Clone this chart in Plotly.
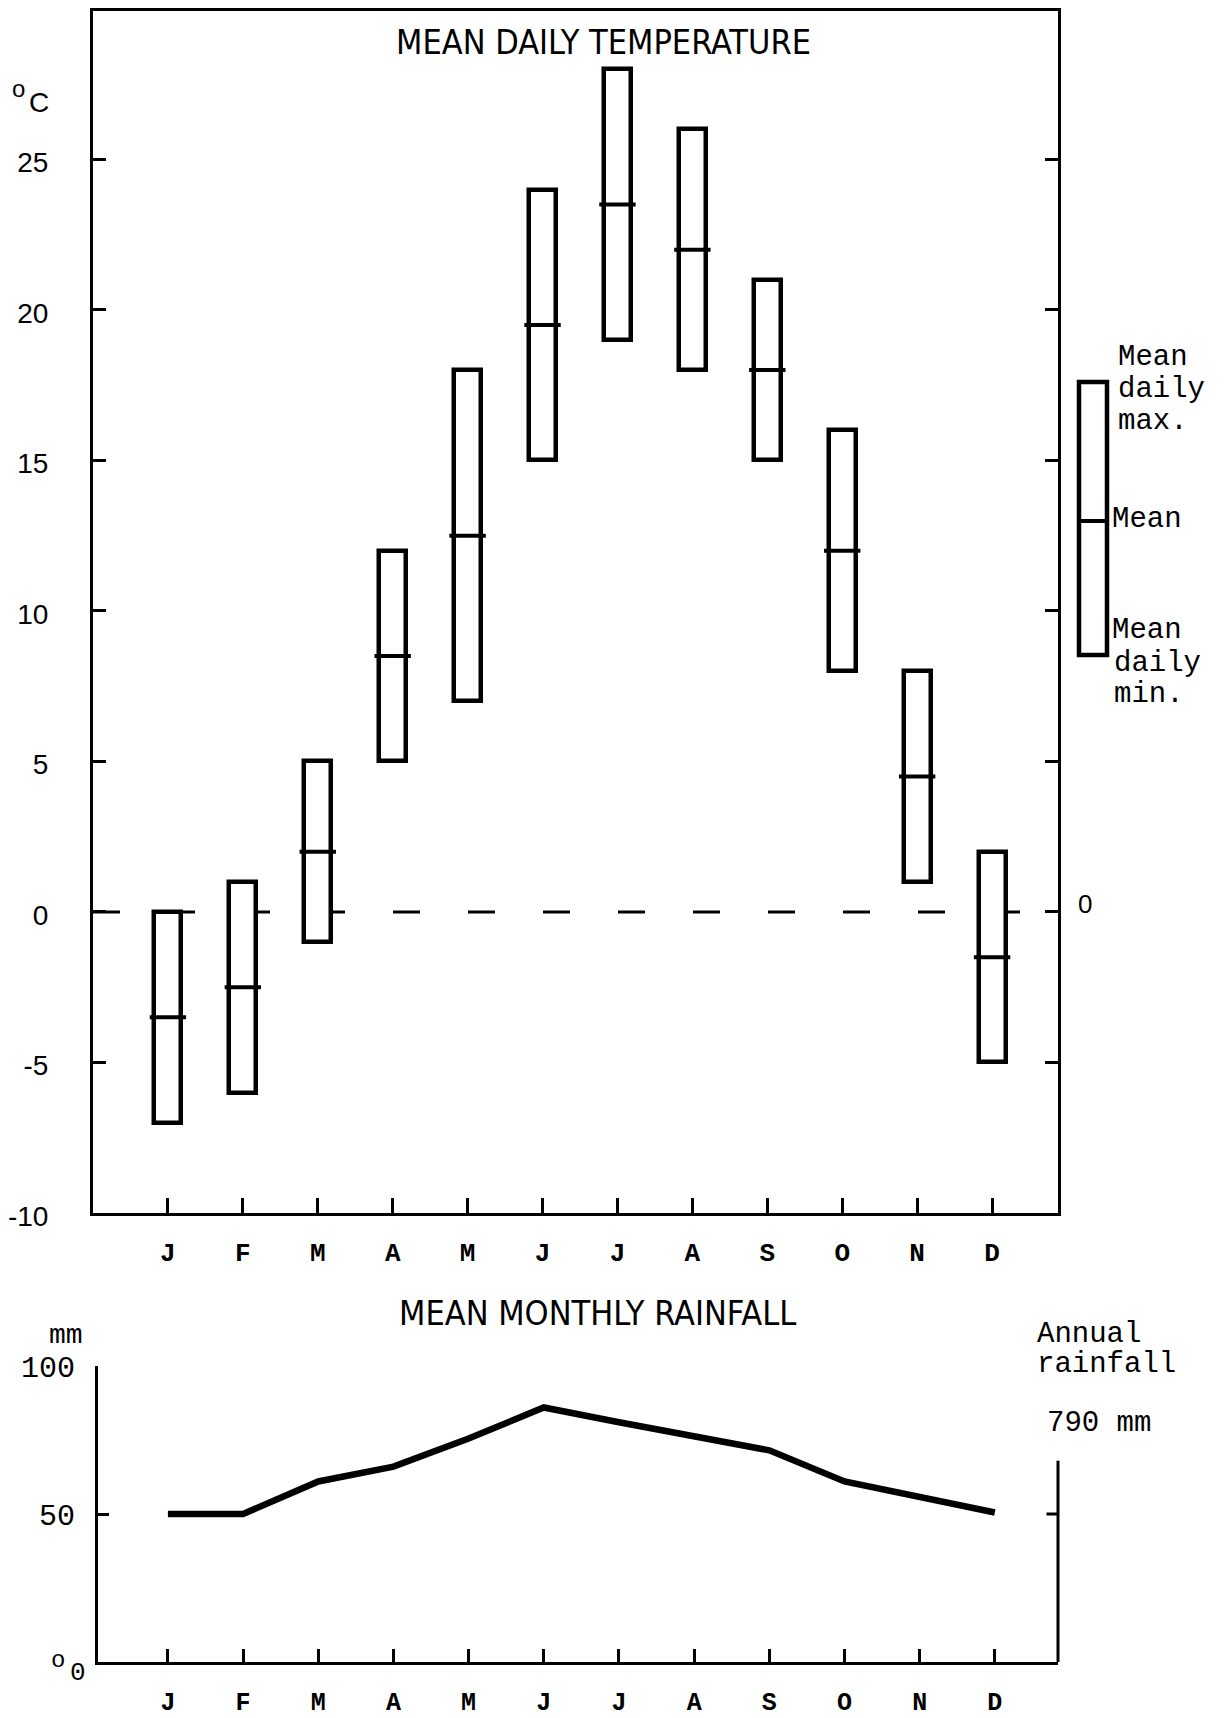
import plotly.graph_objects as go

# ---------------- data ----------------
months = ["J", "F", "M", "A", "M", "J", "J", "A", "S", "O", "N", "D"]
month_pos = list(range(1, 13))
t_max = [0, 1, 5, 12, 18, 24, 28, 26, 21, 16, 8, 2]
t_mean = [-3.5, -2.5, 2, 8.5, 12.5, 19.5, 23.5, 22, 18, 12, 4.5, -1.5]
t_min = [-7, -6, -1, 5, 7, 15, 19, 18, 15, 8, 1, -5]
temp_ticks = [-10, -5, 0, 5, 10, 15, 20, 25]
temp_tick_text = ["-10", "-5", "0", "5", "10", "15", "20", "25"]
rain = [50, 50, 61, 66, 75.5, 86, 81, 76.5, 71.5, 61, 56, 50.5]
rain_ticks = [50, 100]
rain_tick_text = ["50", "100"]
annual_rain = 790

W, H = 1224, 1718
OFF = 8  # page body margin
def px(x):
    return (x - OFF) / W
def py(y):
    return 1 - (y - OFF) / H

SANS = "Liberation Sans, Arial, sans-serif"
COND = "DejaVu Sans Condensed, Liberation Sans Narrow, Liberation Sans, sans-serif"
MONO = "Liberation Mono, Courier New, monospace"
BLACK = "black"

fig = go.Figure()

# temperature boxes
fig.add_trace(go.Bar(
    x=month_pos, base=t_min, y=[a - b for a, b in zip(t_max, t_min)],
    width=0.36, marker=dict(color="white", line=dict(color=BLACK, width=4.5)),
    xaxis="x", yaxis="y", hoverinfo="skip",
))
fig.add_trace(go.Scatter(
    x=month_pos, y=t_mean, mode="markers",
    marker=dict(symbol="line-ew", size=26, line=dict(color=BLACK, width=4)),
    xaxis="x", yaxis="y", hoverinfo="skip",
))
# rainfall line
fig.add_trace(go.Scatter(
    x=month_pos, y=rain, mode="lines",
    line=dict(color=BLACK, width=6.5),
    xaxis="x2", yaxis="y2", hoverinfo="skip",
))

fig.update_layout(
    template="none",
    width=W, height=H, margin=dict(l=0, r=0, t=0, b=0, pad=0, autoexpand=False),
    paper_bgcolor="white", plot_bgcolor="white", showlegend=False,
    bargap=0,
    xaxis=dict(domain=[px(93), px(1058)], range=[0, 12.88], tickvals=month_pos, ticktext=months,
               showline=True, linecolor=BLACK, linewidth=3, mirror=True,
               ticks="inside", ticklen=15, tickwidth=2.5, tickcolor=BLACK,
               showgrid=False, zeroline=False, ticklabelstandoff=14, automargin=False,
               tickfont=dict(family=MONO, size=26, color=BLACK, weight="bold"), anchor="y"),
    yaxis=dict(domain=[py(1213), py(11)], range=[-10, 29.93], tickvals=temp_ticks,
               ticktext=temp_tick_text, showline=True, linecolor=BLACK, linewidth=3,
               mirror="ticks", ticks="inside", ticklen=13, tickwidth=3, tickcolor=BLACK,
               showgrid=False, zeroline=False, ticklabelstandoff=36, ticklabelshift=3,
               automargin=False,
               tickfont=dict(family=SANS, size=28, color=BLACK), anchor="x"),
    xaxis2=dict(domain=[px(98), px(1058)], range=[0.07, 12.84], tickvals=month_pos,
                ticktext=months, showline=True, linecolor=BLACK, linewidth=3,
                ticks="inside", ticklen=13, tickwidth=2.5, tickcolor=BLACK,
                showgrid=False, zeroline=False, ticklabelstandoff=15, automargin=False,
                tickfont=dict(family=MONO, size=25, color=BLACK, weight="bold"), anchor="y2"),
    yaxis2=dict(domain=[py(1662), py(1366)], range=[0, 100], tickvals=rain_ticks,
                ticktext=rain_tick_text, showline=True, linecolor=BLACK, linewidth=3,
                ticks="inside", ticklen=11, tickwidth=3, tickcolor=BLACK,
                showgrid=False, zeroline=False, ticklabelstandoff=14, automargin=False,
                tickfont=dict(family=MONO, size=30, color=BLACK), anchor="x2"),
)

shapes = []
# dashed zero line
shapes.append(dict(type="line", xref="x domain", yref="y", x0=0, x1=1, y0=0, y1=0,
                   line=dict(color=BLACK, width=3, dash="27px,48px"), layer="below"))
# rainfall: partial right axis with tick at 50
shapes.append(dict(type="line", xref="x2 domain", yref="y2", x0=1, x1=1, y0=0, y1=68,
                   line=dict(color=BLACK, width=3)))
shapes.append(dict(type="line", xref="x2 domain", yref="y2", x0=0.988, x1=1, y0=50, y1=50,
                   line=dict(color=BLACK, width=3)))
# key box
shapes.append(dict(type="rect", xref="paper", yref="paper", x0=px(1079), x1=px(1107),
                   y0=py(655), y1=py(382), line=dict(color=BLACK, width=4.5)))
shapes.append(dict(type="line", xref="paper", yref="paper", x0=px(1079), x1=px(1107),
                   y0=py(521), y1=py(521), line=dict(color=BLACK, width=4)))
fig.update_layout(shapes=shapes)

ann = []
def text(t, x, y, font, size, xanchor="left", yanchor="middle", xref="paper", yref="paper", weight="normal"):
    ann.append(dict(text=t, x=x, y=y, xref=xref, yref=yref, xanchor=xanchor, yanchor=yanchor,
                    showarrow=False, font=dict(family=font, size=size, color=BLACK, weight=weight)))

text("MEAN DAILY TEMPERATURE", px(603), py(42), COND, 34, xanchor="center")
text("MEAN MONTHLY RAINFALL", px(597), py(1313), COND, 34, xanchor="center")
text("o", px(18), py(88), SANS, 24, xanchor="center")
text("C", px(39), py(103), SANS, 28, xanchor="center")
text("0", px(1085), py(904), SANS, 26, xanchor="center")
text("o", px(58), py(1660), MONO, 24, xanchor="center")
text("0", px(78), py(1673), MONO, 26, xanchor="center")
text("mm", px(66), py(1335), MONO, 28, xanchor="center")
text("Annual", px(1035), py(1334), MONO, 29)
text("rainfall", px(1035), py(1364), MONO, 29)
text(f"{annual_rain} mm", px(1045), py(1423), MONO, 29)
# key labels
text("Mean", px(1116), py(357), MONO, 29)
text("daily", px(1116), py(390), MONO, 29)
text("max.", px(1116), py(421), MONO, 29)
text("Mean", px(1110), py(519), MONO, 29)
text("Mean", px(1110), py(630), MONO, 29)
text("daily", px(1112), py(663), MONO, 29)
text("min.", px(1112), py(694), MONO, 29)
fig.update_layout(annotations=ann)

fig.write_html("out.html")
